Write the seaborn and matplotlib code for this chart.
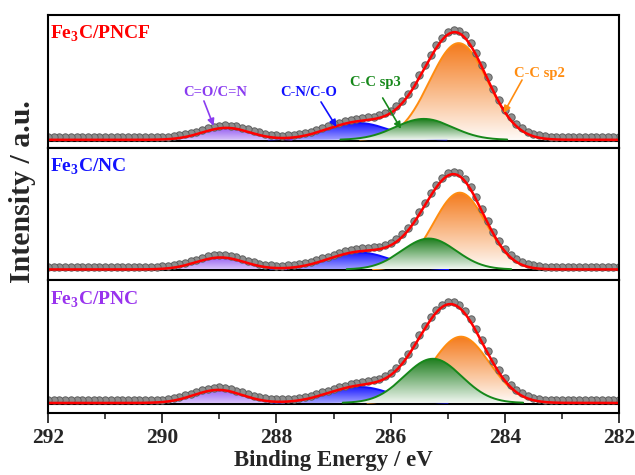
import numpy as np
import matplotlib
matplotlib.use("Agg")
import matplotlib.pyplot as plt
import seaborn as sns
from matplotlib.colors import to_rgb
from matplotlib.ticker import MultipleLocator

# ---------------- data ----------------
samples = ["Fe$_\\mathbf{3}$C/PNCF", "Fe$_\\mathbf{3}$C/NC", "Fe$_\\mathbf{3}$C/PNC"]
sample_colors = ["#ff0000", "#1212ff", "#9933ee"]

components = ["C-C sp2", "C-C sp3", "C-N/C-O", "C=O/C=N"]
comp_colors = ["#f47a1c", "#1c7d1c", "#1414ff", "#8c4ff0"]
comp_line = ["#ff8c10", "#16881a", "#1010ff", "#8a3cf0"]

# peak centre (eV), peak height (a.u.), FWHM (eV) for each component
pncf_center = [284.81, 285.42, 286.58, 288.88]
pncf_height = [97, 21, 17, 12]
pncf_fwhm = [1.20, 1.18, 1.30, 1.00]

nc_center = [284.79, 285.33, 286.55, 288.98]
nc_height = [77, 31, 17, 12]
nc_fwhm = [1.08, 1.12, 1.30, 1.00]

pnc_center = [284.77, 285.26, 286.55, 289.02]
pnc_height = [66, 44, 16, 13]
pnc_fwhm = [1.18, 1.18, 1.30, 1.00]

centers = [pncf_center, nc_center, pnc_center]
heights = [pncf_height, nc_height, pnc_height]
fwhms = [pncf_fwhm, nc_fwhm, pnc_fwhm]

data_offset = 2.5          # raw data sits slightly above the fit
x_ticks = [292, 290, 288, 286, 284, 282]

# ---------------- style ----------------
sns.set_theme(style="ticks")
plt.rcParams["font.family"] = ["Liberation Serif", "DejaVu Serif"]
plt.rcParams["font.weight"] = "bold"
plt.rcParams["mathtext.fontset"] = "custom"
plt.rcParams["mathtext.rm"] = "Liberation Serif:bold"
plt.rcParams["mathtext.bf"] = "Liberation Serif:bold"
plt.rcParams["axes.linewidth"] = 1.5

fig = plt.figure(figsize=(6.35, 4.75), dpi=100)
axes = fig.subplots(3, 1, sharex=True)
fig.subplots_adjust(left=0.0756, right=0.975, top=0.968, bottom=0.1305, hspace=0)

E = np.linspace(282, 292, 1001)
E_dots = np.round(np.arange(282.0, 292.0001, 0.1), 2)


def gauss(x, c, h, fw):
    s = fw / 2.3548
    return h * np.exp(-((x - c) ** 2) / (2 * s * s))


def gradient_fill(ax, x, y, color, t_top, t_bot, zorder):
    poly = ax.fill_between(x, 0, y, facecolor="none", edgecolor="none")
    n = 256
    t = np.linspace(t_bot, t_top, n)[:, None, None]
    rgb = np.array(to_rgb(color))[None, None, :]
    grad = (1 - t) * 1.0 + t * rgb
    im = ax.imshow(grad, aspect="auto", origin="lower",
                   extent=[x.min(), x.max(), 0, y.max()], zorder=zorder,
                   interpolation="bilinear")
    im.set_clip_path(poly.get_paths()[0], transform=ax.transData)


ylims = [(-8, 125), (-11, 122), (-10, 122)]
t_bot = [0.03, 0.06, 0.40, 0.35]
t_top = [1.0, 1.0, 1.0, 0.9]
draw_order = [0, 2, 3, 1]   # orange at back, green in front

for i, ax in enumerate(axes):
    comps = [gauss(E, c, h, f) for c, h, f in zip(centers[i], heights[i], fwhms[i])]
    env = np.sum(comps, axis=0)
    env_dots = np.sum([gauss(E_dots, c, h, f) for c, h, f in
                       zip(centers[i], heights[i], fwhms[i])], axis=0)

    ax.axhline(-1.0, color="black", lw=1.5, zorder=1)
    for j, k in enumerate(draw_order):
        z = 2 + j * 0.2
        gradient_fill(ax, E, comps[k], comp_colors[k], t_top[k], t_bot[k], z)
        mask = comps[k] > 0.3
        sns.lineplot(x=E[mask], y=comps[k][mask], ax=ax, color=comp_line[k],
                     lw=1.4, zorder=z + 0.1, errorbar=None)

    sns.scatterplot(x=E_dots, y=env_dots + data_offset, ax=ax, s=28,
                    color="#8e8e8e", edgecolor="#5e5e5e", linewidth=0.7, zorder=4)
    sns.lineplot(x=E, y=env, ax=ax, color="#ff0000", lw=1.8, zorder=5, errorbar=None)

    ax.set_ylim(*ylims[i])
    ax.set_xlim(292, 282)
    ax.set_yticks([])
    ax.set_ylabel("")
    for sp in ax.spines.values():
        sp.set_visible(True)
        sp.set_linewidth(1.5)
        sp.set_color("black")
        sp.set_zorder(10)
    ax.text(0.003, 1 - 9 / 133, samples[i], transform=ax.transAxes, ha="left", va="top",
            fontsize=14, fontweight="bold", color=sample_colors[i])
    if i < 2:
        ax.tick_params(axis="x", bottom=False, labelbottom=False)

# bottom axis
axb = axes[2]
axb.set_xticks(x_ticks)
axb.set_xticklabels([str(t) for t in x_ticks])
axb.xaxis.set_minor_locator(MultipleLocator(1))
axb.tick_params(axis="x", which="major", direction="out", length=7, width=1.3,
                labelsize=15.5, pad=4)
axb.tick_params(axis="x", which="minor", direction="out", length=4, width=1.2)
for lab in axb.get_xticklabels():
    lab.set_fontweight("bold")
axb.set_xlabel("Binding Energy / eV", fontsize=16.5, fontweight="bold", labelpad=1)

fig.text(0.035, (475 - 192) / 475, "Intensity / a.u.", rotation=90, ha="center",
         va="center", fontsize=21.5, fontweight="bold")

# annotations in the top panel
axt = axes[0]
ann = [
    ("C=O/C=N", comp_line[3], (289.07, 47), (289.27, 39), (289.10, 14)),
    ("C-N/C-O", comp_line[2], (287.44, 47), (287.22, 38), (286.95, 13)),
    ("C-C sp3", comp_line[1], (286.26, 57), (286.14, 42), (285.82, 11)),
    ("C-C sp2", comp_line[0], (283.40, 67), (283.70, 60), (284.02, 27)),
]
for label, col, tpos, a0, a1 in ann:
    axt.text(tpos[0], tpos[1], label, color=col, fontsize=10.5, fontweight="bold",
             ha="center", va="center", zorder=6)
    axt.annotate("", xy=a1, xytext=a0,
                 arrowprops=dict(arrowstyle="-|>", color=col, lw=1.2,
                                 mutation_scale=10, shrinkA=0, shrinkB=0), zorder=6)

fig.savefig("out.png", dpi=100, facecolor="white")
